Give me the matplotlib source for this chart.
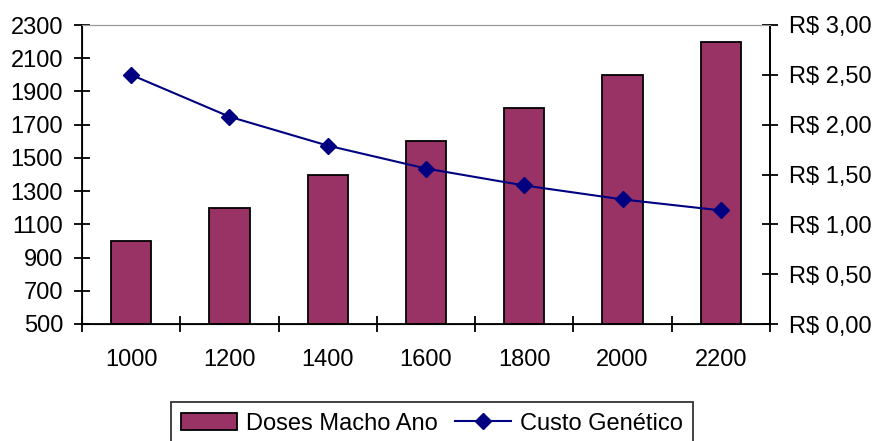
import matplotlib.pyplot as plt
import numpy as np
from matplotlib.ticker import FuncFormatter

plt.rcParams['font.family'] = ['Liberation Sans', 'DejaVu Sans']

anos = ['1000', '1200', '1400', '1600', '1800', '2000', '2200']
doses = [1000, 1200, 1400, 1600, 1800, 2000, 2200]
custo = [2.50, 2.08, 1.79, 1.56, 1.39, 1.25, 1.14]

fs = 17
fig = plt.figure(figsize=(8.77, 4.41), dpi=100)
ax = fig.add_axes([82/877, 1-324/441, 688/877, 299/441])
x = np.arange(len(anos))
b = ax.bar(x, [d-500 for d in doses], bottom=500, width=0.41, color='#993366',
           edgecolor='black', linewidth=1.3, label='Doses Macho Ano')
ax.set_xlim(-0.5, 6.5)
ax.set_ylim(500, 2300)
ax.set_yticks(range(500, 2301, 200))
ax.set_xticks(x)
ax.set_xticklabels(anos)
ax.set_xticks(np.arange(-0.5, 7, 1), minor=True)
ax.tick_params(axis='x', which='major', length=0, pad=18, labelsize=fs)
ax.tick_params(axis='x', which='minor', direction='inout', length=11, width=1.3)
ax.tick_params(axis='y', direction='inout', length=11, width=1.3, labelsize=fs, pad=8)
for s in ['left', 'bottom', 'right']:
    ax.spines[s].set_linewidth(1.3)
ax.spines['top'].set_color('#999999')

ax2 = ax.twinx()
l, = ax2.plot(x, custo, color='#000080', marker='D', markersize=8, linewidth=1.5,
              label='Custo Genético')
ax2.set_ylim(0, 3)
ax2.set_yticks(np.arange(0, 3.01, 0.5))
ax2.yaxis.set_major_formatter(FuncFormatter(lambda v, p: 'R$ ' + f'{v:.2f}'.replace('.', ',')))
ax2.tick_params(axis='y', direction='inout', length=11, width=1.3, labelsize=fs, pad=8)
ax2.spines['right'].set_linewidth(1.3)
ax2.spines['top'].set_color('#999999')

leg = fig.legend([b, l], ['Doses Macho Ano', 'Custo Genético'], loc='upper center',
                 bbox_to_anchor=(432/877, 1-402/441), ncol=2, fontsize=fs,
                 frameon=True, fancybox=False, edgecolor='black', handlelength=2.35,
                 handletextpad=0.38, columnspacing=0.75, borderpad=0.45,
                 borderaxespad=0)
leg.get_frame().set_linewidth(1.3)

fig.savefig('out.png', dpi=100)
